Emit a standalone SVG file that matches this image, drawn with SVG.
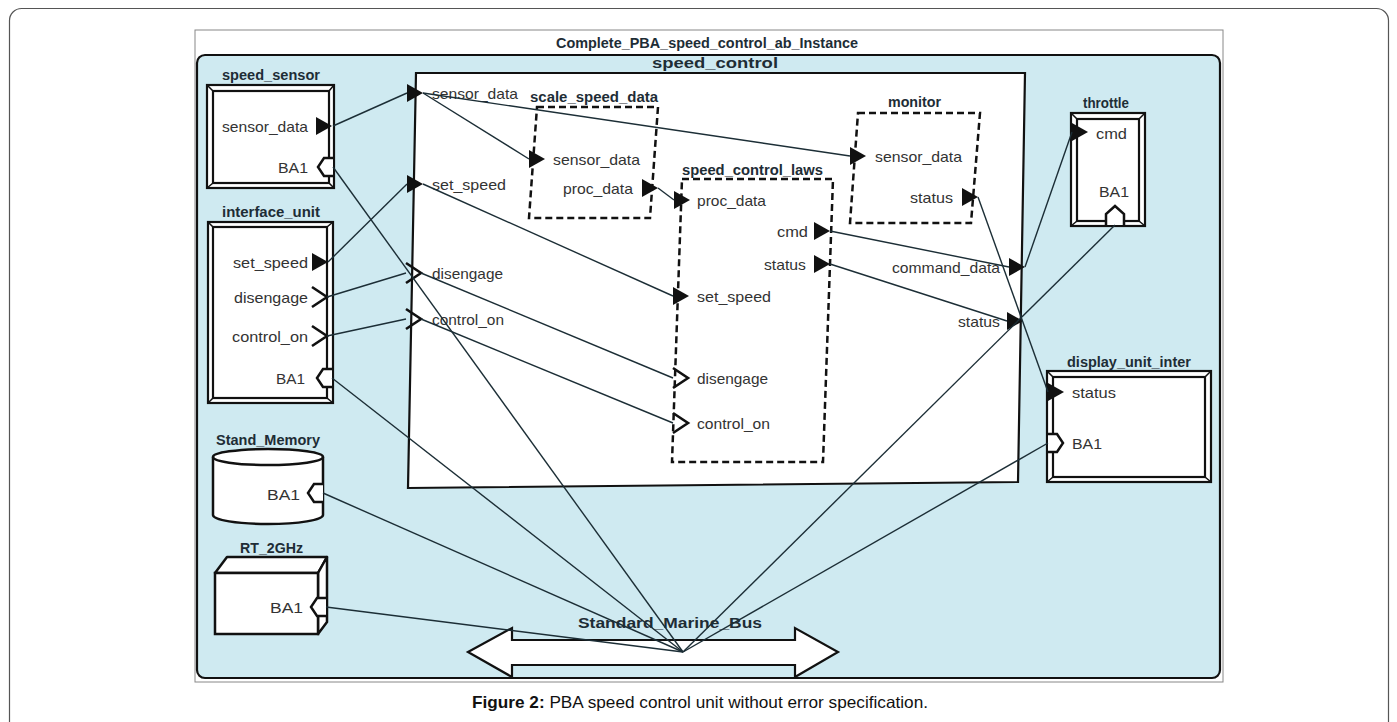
<svg xmlns="http://www.w3.org/2000/svg" xmlns:xlink="http://www.w3.org/1999/xlink" width="1397" height="722" viewBox="0 0 1397 722">
<style>
.lbl{font-family:"Liberation Sans",Arial,sans-serif;font-size:15px;fill:#333}
.ttl{font-family:"Liberation Sans",Arial,sans-serif;font-size:14.5px;font-weight:bold;fill:#1e2d36}
.frm{fill:#fff;stroke:#111;stroke-width:2.2}
.bev{stroke:#111;stroke-width:1.5;fill:none}
.dash{fill:none;stroke:#111;stroke-width:2.5;stroke-dasharray:7 4}
.con{fill:none;stroke:#1c2e36;stroke-width:1.4}
.ba{fill:#fff;stroke:#111;stroke-width:2.5;stroke-linejoin:miter}
.ev{fill:none;stroke:#111;stroke-width:2.6}
</style>
<defs>
<path id="tri" d="M0,-9 L16,0 L0,9 Z" fill="#111"/>
<path id="chev" d="M0,-10 L15,0 L0,10" class="ev"/>
<path id="baL" d="M0,-9 L-9,-9 L-15,0 L-9,9 L0,9" class="ba"/>
<path id="baR" d="M0,-9 L9,-9 L15,0 L9,9 L0,9" class="ba"/>
<path id="baU" d="M-9,0 L-9,-11 L0,-19 L9,-11 L9,0" class="ba"/>
</defs>

<!-- page frame -->
<rect x="9.5" y="8.5" width="1379" height="760" rx="12" fill="#fff" stroke="#555" stroke-width="1.2"/>

<!-- diagram background -->
<g id="instance">
<rect x="195" y="30" width="1028" height="652" fill="#fff" stroke="#888" stroke-width="1"/>
<rect x="197" y="55" width="1023" height="623" rx="8" fill="#cfeaf1" stroke="#111" stroke-width="2.2"/>
<text class="ttl" x="707" y="48" text-anchor="middle" textLength="302" lengthAdjust="spacingAndGlyphs">Complete_PBA_speed_control_ab_Instance</text>
</g>

<!-- speed_control -->
<g id="speed_control">
<polygon points="416,73 1025,73 1018,482 408,488" fill="#fff" stroke="#111" stroke-width="2.2"/>
<text class="ttl" x="715" y="68" text-anchor="middle" textLength="126" lengthAdjust="spacingAndGlyphs">speed_control</text>
<use href="#tri" x="407" y="93"/>
<text class="lbl" x="432" y="99" textLength="86" lengthAdjust="spacingAndGlyphs">sensor_data</text>
<use href="#tri" x="407" y="184"/>
<text class="lbl" x="432" y="190" textLength="74" lengthAdjust="spacingAndGlyphs">set_speed</text>
<use href="#chev" x="406" y="273"/>
<text class="lbl" x="432" y="279" textLength="71" lengthAdjust="spacingAndGlyphs">disengage</text>
<use href="#chev" x="406" y="319"/>
<text class="lbl" x="432" y="325" textLength="72" lengthAdjust="spacingAndGlyphs">control_on</text>
<use href="#tri" x="1009" y="267"/>
<text class="lbl" x="1000" y="273" text-anchor="end" textLength="108" lengthAdjust="spacingAndGlyphs">command_data</text>
<use href="#tri" x="1007" y="321"/>
<text class="lbl" x="1000" y="327" text-anchor="end" textLength="42" lengthAdjust="spacingAndGlyphs">status</text>
</g>

<g id="scale_speed_data">
<polygon points="537,107 658,107 650,218 529,218" fill="#fff" class="dash"/>
<text class="ttl" x="530" y="102" textLength="128" lengthAdjust="spacingAndGlyphs">scale_speed_data</text>
<use href="#tri" x="529" y="159"/>
<text class="lbl" x="553" y="165" textLength="87" lengthAdjust="spacingAndGlyphs">sensor_data</text>
<use href="#tri" x="642" y="188"/>
<text class="lbl" x="563" y="194" textLength="70" lengthAdjust="spacingAndGlyphs">proc_data</text>
</g>

<g id="speed_control_laws">
<polygon points="682,179 833,179 823,462 672,462" fill="#fff" class="dash"/>
<text class="ttl" x="682" y="175" textLength="141" lengthAdjust="spacingAndGlyphs">speed_control_laws</text>
<use href="#tri" x="674" y="200"/>
<text class="lbl" x="697" y="206" textLength="69" lengthAdjust="spacingAndGlyphs">proc_data</text>
<use href="#tri" x="814" y="231"/>
<text class="lbl" x="808" y="237" text-anchor="end" textLength="31" lengthAdjust="spacingAndGlyphs">cmd</text>
<use href="#tri" x="814" y="264"/>
<text class="lbl" x="806" y="270" text-anchor="end" textLength="42" lengthAdjust="spacingAndGlyphs">status</text>
<use href="#tri" x="673" y="296"/>
<text class="lbl" x="697" y="302" textLength="74" lengthAdjust="spacingAndGlyphs">set_speed</text>
<use href="#chev" x="673" y="378"/>
<text class="lbl" x="697" y="384" textLength="71" lengthAdjust="spacingAndGlyphs">disengage</text>
<use href="#chev" x="673" y="423"/>
<text class="lbl" x="697" y="429" textLength="73" lengthAdjust="spacingAndGlyphs">control_on</text>
</g>

<g id="monitor">
<polygon points="858,113 980,113 971,223 850,223" fill="#fff" class="dash"/>
<text class="ttl" x="888" y="107" textLength="53" lengthAdjust="spacingAndGlyphs">monitor</text>
<use href="#tri" x="850" y="156"/>
<text class="lbl" x="875" y="162" textLength="87" lengthAdjust="spacingAndGlyphs">sensor_data</text>
<use href="#tri" x="962" y="197"/>
<text class="lbl" x="953" y="203" text-anchor="end" textLength="43" lengthAdjust="spacingAndGlyphs">status</text>
</g>

<!-- left side components -->
<g id="speed_sensor">
<rect x="207" y="85" width="127" height="103" class="frm"/>
<rect x="213" y="91" width="116" height="92" class="frm"/>
<path class="bev" d="M207,85 L213,91 M334,85 L329,91 M207,188 L213,183 M334,188 L329,183"/>
<text class="ttl" x="222" y="80" textLength="98" lengthAdjust="spacingAndGlyphs">speed_sensor</text>
<text class="lbl" x="308" y="132" text-anchor="end" textLength="86" lengthAdjust="spacingAndGlyphs">sensor_data</text>
<use href="#tri" x="316" y="126"/>
<text class="lbl" x="308" y="173" text-anchor="end" textLength="30" lengthAdjust="spacingAndGlyphs">BA1</text>
<use href="#baL" x="333" y="167"/>
</g>

<g id="interface_unit">
<rect x="208" y="222" width="125" height="181" class="frm"/>
<rect x="213" y="227" width="114" height="171" class="frm"/>
<path class="bev" d="M208,222 L213,227 M333,222 L327,227 M208,403 L213,398 M333,403 L327,398"/>
<text class="ttl" x="222" y="217" textLength="98" lengthAdjust="spacingAndGlyphs">interface_unit</text>
<text class="lbl" x="308" y="268" text-anchor="end" textLength="75" lengthAdjust="spacingAndGlyphs">set_speed</text>
<use href="#tri" x="312" y="262"/>
<text class="lbl" x="308" y="303" text-anchor="end" textLength="74" lengthAdjust="spacingAndGlyphs">disengage</text>
<use href="#chev" x="312" y="297"/>
<text class="lbl" x="308" y="342" text-anchor="end" textLength="76" lengthAdjust="spacingAndGlyphs">control_on</text>
<use href="#chev" x="312" y="336"/>
<text class="lbl" x="305" y="384" text-anchor="end" textLength="29" lengthAdjust="spacingAndGlyphs">BA1</text>
<use href="#baL" x="332" y="378"/>
</g>

<g id="Stand_Memory">
<path d="M213,457 L213,515 A55,9 0 0 0 323,515 L323,457" fill="#fff" stroke="#111" stroke-width="2.5"/>
<ellipse cx="268" cy="457" rx="55" ry="8" fill="#fff" stroke="#111" stroke-width="2.5"/>
<text class="ttl" x="216" y="445" textLength="104" lengthAdjust="spacingAndGlyphs">Stand_Memory</text>
<text class="lbl" x="300" y="500" text-anchor="end" textLength="33" lengthAdjust="spacingAndGlyphs">BA1</text>
<use href="#baL" x="323" y="493"/>
</g>

<g id="RT_2GHz">
<path d="M215,573 L227,557 L327,557 L318,573 Z" fill="#fff" stroke="#111" stroke-width="2.5" stroke-linejoin="round"/>
<path d="M318,573 L327,557 L327,622 L318,634 Z" fill="#fff" stroke="#111" stroke-width="2.5" stroke-linejoin="round"/>
<rect x="215" y="573" width="103" height="61" fill="#fff" stroke="#111" stroke-width="2.5"/>
<text class="ttl" x="240" y="553" textLength="63" lengthAdjust="spacingAndGlyphs">RT_2GHz</text>
<text class="lbl" x="303" y="613" text-anchor="end" textLength="33" lengthAdjust="spacingAndGlyphs">BA1</text>
<use href="#baL" x="326" y="607"/>
</g>

<!-- right side components -->
<g id="throttle">
<rect x="1071" y="113" width="74" height="113" class="frm"/>
<rect x="1077" y="119" width="62" height="102" class="frm"/>
<path class="bev" d="M1071,113 L1077,119 M1145,113 L1139,119 M1071,226 L1077,221 M1145,226 L1139,221"/>
<text class="ttl" x="1083" y="108" textLength="46" lengthAdjust="spacingAndGlyphs">throttle</text>
<use href="#tri" x="1072" y="132"/>
<text class="lbl" x="1096" y="139" textLength="31" lengthAdjust="spacingAndGlyphs">cmd</text>
<text class="lbl" x="1099" y="197" textLength="30" lengthAdjust="spacingAndGlyphs">BA1</text>
<use href="#baU" x="1115" y="225"/>
</g>

<g id="display_unit_inter">
<rect x="1047" y="371" width="164" height="111" class="frm"/>
<rect x="1053" y="377" width="152" height="100" class="frm"/>
<path class="bev" d="M1047,371 L1053,377 M1211,371 L1205,377 M1047,482 L1053,477 M1211,482 L1205,477"/>
<text class="ttl" x="1067" y="367" textLength="124" lengthAdjust="spacingAndGlyphs">display_unit_inter</text>
<use href="#tri" x="1048" y="392"/>
<text class="lbl" x="1072" y="398" textLength="44" lengthAdjust="spacingAndGlyphs">status</text>
<use href="#baR" x="1048" y="443"/>
<text class="lbl" x="1072" y="449" textLength="30" lengthAdjust="spacingAndGlyphs">BA1</text>
</g>

<!-- bus -->
<g id="Standard_Marine_Bus">
<polygon points="468,652 512,628 512,640 795,640 795,628 838,652 795,677 795,665 512,665 512,677" fill="#fff" stroke="#111" stroke-width="2.2"/>
<text class="ttl" x="578" y="628" textLength="184" lengthAdjust="spacingAndGlyphs">Standard_Marine_Bus</text>
</g>

<!-- connectors -->
<g id="connectors" class="con">
<line x1="333" y1="126" x2="407" y2="93"/>
<line x1="423" y1="93" x2="529" y2="159"/>
<line x1="423" y1="93" x2="850" y2="156"/>
<line x1="328" y1="262" x2="407" y2="184"/>
<line x1="423" y1="184" x2="673" y2="296"/>
<line x1="327" y1="297" x2="406" y2="273"/>
<line x1="327" y1="336" x2="406" y2="319"/>
<line x1="421" y1="273" x2="673" y2="378"/>
<line x1="421" y1="319" x2="673" y2="423"/>
<line x1="658" y1="188" x2="674" y2="200"/>
<line x1="830" y1="231" x2="1009" y2="267"/>
<line x1="830" y1="264" x2="1007" y2="321"/>
<line x1="1025" y1="267" x2="1072" y2="132"/>
<line x1="978" y1="197" x2="1048" y2="392"/>
<line x1="333" y1="167" x2="683" y2="652"/>
<line x1="332" y1="378" x2="683" y2="652"/>
<line x1="323" y1="493" x2="683" y2="652"/>
<line x1="326" y1="607" x2="683" y2="652"/>
<line x1="1115" y1="225" x2="683" y2="652"/>
<line x1="1048" y1="443" x2="683" y2="652"/>
</g>

<!-- caption -->
<text x="700" y="708" text-anchor="middle" textLength="456" lengthAdjust="spacingAndGlyphs" style="font-family:'Liberation Sans',Arial,sans-serif;font-size:16.5px;fill:#111"><tspan font-weight="bold">Figure 2:</tspan> PBA speed control unit without error specification.</text>
</svg>
